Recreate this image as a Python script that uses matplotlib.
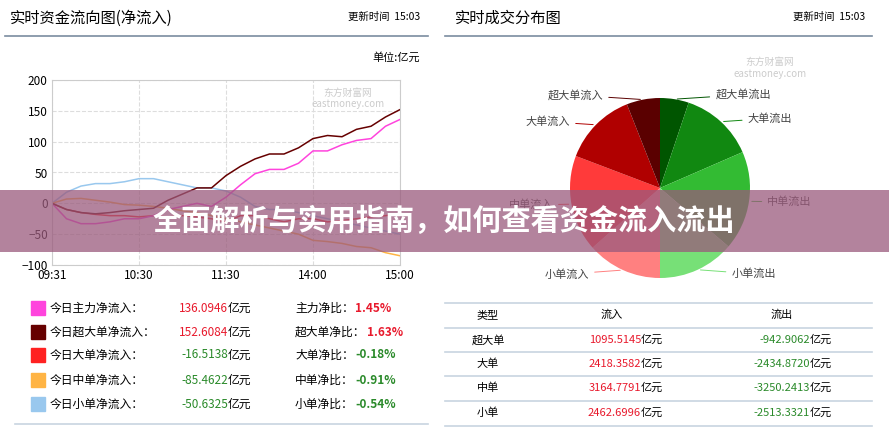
import matplotlib.pyplot as plt
import matplotlib.patches as mpatches
import numpy as np

plt.rcParams["font.family"] = "Noto Sans CJK SC"

W, H = 889, 443

# ---- data ----
minutes = [0, 10, 20, 30, 40, 50, 60, 70, 80, 90, 100, 110, 120, 130, 140, 150,
           160, 170, 180, 190, 200, 210, 220, 230, 240]
time_ticks = [0, 60, 120, 180, 240]
time_labels = ["09:31", "10:30", "11:30", "14:00", "15:00"]

main_net = [0, -25, -33, -33, -30, -25, -25, -20, -10, -5, 0, -5, 10, 30, 48, 55,
            55, 65, 85, 85, 95, 102, 105, 125, 136]
super_net = [0, -10, -15, -17, -15, -12, -10, -8, 5, 15, 25, 25, 45, 60, 72, 80,
             80, 90, 105, 110, 108, 120, 125, 140, 152]
large_net = [0, -10, -15, -18, -20, -20, -22, -20, -22, -20, -22, -25, -30, -20, -20, -25,
             -30, -25, -25, -30, -28, -25, -22, -20, -16.5]
medium_net = [0, 7, 8, 5, 2, -2, -3, -5, -8, -12, -15, -20, -25, -30, -35, -40,
              -45, -50, -60, -62, -65, -70, -72, -80, -85]
small_net = [0, 18, 28, 32, 32, 35, 40, 40, 35, 30, 25, 25, 20, 10, -5, -10,
             -10, -15, -20, -25, -30, -35, -40, -45, -50]

legend_names = ["今日主力净流入：", "今日超大单净流入：", "今日大单净流入：", "今日中单净流入：", "今日小单净流入："]
legend_values = ["136.0946", "152.6084", "-16.5138", "-85.4622", "-50.6325"]
ratio_names = ["主力净比：", "超大单净比：", "大单净比：", "中单净比：", "小单净比："]
ratio_values = ["1.45%", "1.63%", "-0.18%", "-0.91%", "-0.54%"]

types = ["超大单", "大单", "中单", "小单"]
inflow = [1095.5145, 2418.3582, 3164.7791, 2462.6996]
outflow = [-942.9062, -2434.8720, -3250.2413, -2513.3321]

line_colors = ["#ff44dd", "#660000", "#ff2222", "#ffb444", "#99c8ee"]
red, green = "#e8192c", "#2a8a2a"

fig = plt.figure(figsize=(W / 100, H / 100), dpi=100)
fig.patch.set_facecolor("white")


def fx(x):
    return x / W


def fy(y):
    return 1 - y / H


def txt(x, y, s, **kw):
    kw.setdefault("va", "center")
    fig.text(fx(x), fy(y), s, **kw)


def hline(x0, x1, y, color="#c8d4e0", lw=1.2):
    fig.add_artist(plt.Line2D([fx(x0), fx(x1)], [fy(y), fy(y)], color=color, lw=lw))


# headers
txt(10, 18, "实时资金流向图(净流入)", fontsize=11)
txt(420, 17, "更新时间  15:03", fontsize=7.5, ha="right")
txt(455, 18, "实时成交分布图", fontsize=11)
txt(865, 17, "更新时间  15:03", fontsize=7.5, ha="right")
hline(5, 428, 36, color="#7a8ca0", lw=1.2)
hline(445, 872, 36, color="#7a8ca0", lw=1.2)
txt(420, 57, "单位:亿元", fontsize=8, ha="right")

# line chart
ax = fig.add_axes([fx(52), fy(265), fx(400) - fx(52), fy(80) - fy(265)])
for series, c in zip([small_net, medium_net, large_net, main_net, super_net],
                     [line_colors[4], line_colors[3], line_colors[2], line_colors[0], line_colors[1]]):
    ax.plot(minutes, series, color=c, lw=1.1)
ax.set_xlim(0, 240)
ax.set_ylim(-100, 200)
ax.set_xticks(time_ticks)
ax.set_xticklabels(time_labels, fontsize=8.5)
ax.set_yticks(range(-100, 201, 50))
ax.tick_params(labelsize=8.5, length=0, pad=3)
ax.grid(True, color="#dddddd", ls="--", lw=0.8)
for s in ax.spines.values():
    s.set_color("#cccccc")
ax.text(0.85, 0.9, "东方财富网\neastmoney.com", transform=ax.transAxes, ha="center",
        va="center", fontsize=7, color="#cccccc")

# legend rows
rows_y = [308, 332, 355, 380, 404]
for i, y in enumerate(rows_y):
    fig.add_artist(mpatches.Rectangle((fx(31), fy(y + 7)), fx(14), fy(y - 7) - fy(y + 7),
                                      color=line_colors[i], transform=fig.transFigure))
    txt(50, y, legend_names[i], fontsize=8.5)
    col = red if not legend_values[i].startswith("-") else green
    txt(228, y, legend_values[i], fontsize=8.5, color=col, ha="right")
    txt(228, y, "亿元", fontsize=8.5)
    txt(295, y, ratio_names[i], fontsize=8.5)
    col = red if not ratio_values[i].startswith("-") else green
    off = 295 + 12 * len(ratio_names[i])
    txt(off, y, ratio_values[i], fontsize=8.5, color=col, fontweight="bold")
hline(15, 428, 424)

# pie
pax = fig.add_axes([fx(560), fy(288), fx(760) - fx(560), fy(88) - fy(288)])
pie_vals = [abs(v) for v in outflow] + inflow[::-1]
pie_cols = ["#005500", "#118811", "#33bb33", "#77e077",
            "#ff8080", "#ff3a3a", "#b00000", "#5a0000"]
pie_labels = ["超大单流出", "大单流出", "中单流出", "小单流出",
              "小单流入", "中单流入", "大单流入", "超大单流入"]
wedges, _ = pax.pie(pie_vals, colors=pie_cols, startangle=90, counterclock=False, radius=0.9,
                    wedgeprops=dict(lw=0))
for w, lab in zip(wedges, pie_labels):
    ang = np.deg2rad((w.theta1 + w.theta2) / 2)
    x, y = 0.9 * np.cos(ang), 0.9 * np.sin(ang)
    tx = np.sign(x) * (0.45 + 0.7 * abs(x))
    ty = 1.05 * y
    pax.annotate(lab, xy=(x, y), xytext=(tx, ty), fontsize=8, color="#444444",
                 ha="left" if x > 0 else "right", va="center",
                 arrowprops=dict(arrowstyle="-", color=w.get_facecolor(), lw=0.7))
pax.set_xlim(-1, 1)
pax.set_ylim(-1, 1)
pax.text(1.1, 1.2, "东方财富网\neastmoney.com", ha="center", va="center", fontsize=7, color="#cccccc")

# table
hline(445, 872, 303)
txt(488, 315, "类型", fontsize=8, ha="center")
txt(612, 315, "流入", fontsize=8, ha="center")
txt(782, 315, "流出", fontsize=8, ha="center")
table_y = [340, 364, 388, 413]
for i, y in enumerate(table_y):
    hline(445, 872, y - 12)
    txt(488, y, types[i], fontsize=8, ha="center")
    txt(641, y, f"{inflow[i]:.4f}", fontsize=8, color=red, ha="right")
    txt(641, y, "亿元", fontsize=8)
    txt(810, y, f"{outflow[i]:.4f}", fontsize=8, color=green, ha="right")
    txt(810, y, "亿元", fontsize=8)
hline(445, 872, 426)

# overlay banner
fig.add_artist(mpatches.Rectangle((0, fy(252)), 1, fy(190) - fy(252), color="#9a5a7c",
                                  alpha=0.75, transform=fig.transFigure, lw=0))
txt(444, 221, "全面解析与实用指南，如何查看资金流入流出", fontsize=21, color="white",
    fontweight="bold", ha="center")

fig.savefig("out.png", dpi=100)
